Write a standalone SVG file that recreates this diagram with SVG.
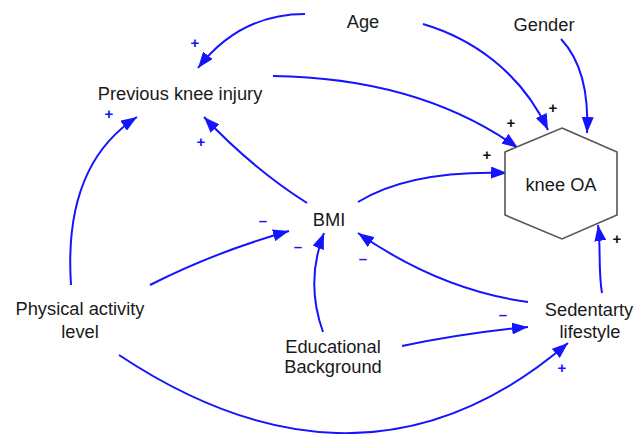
<svg xmlns="http://www.w3.org/2000/svg" width="634" height="434" viewBox="0 0 634 434">
<defs>
<marker id="ah" markerUnits="userSpaceOnUse" markerWidth="17" markerHeight="12" refX="16" refY="6" orient="auto">
<path d="M0,0 L16,6 L0,12 z" fill="#1414ff"/>
</marker>
<style>
.lbl{font-family:"Liberation Sans",Arial,sans-serif;font-size:18.3px;fill:#1a1a1a;text-anchor:middle}
.c{fill:none;stroke:#1414ff;stroke-width:2;marker-end:url(#ah)}
.pb{font-family:"Liberation Sans",Arial,sans-serif;font-size:15px;font-weight:bold;fill:#1414ff;text-anchor:middle}
.pk{font-family:"Liberation Sans",Arial,sans-serif;font-size:15px;font-weight:bold;fill:#111;text-anchor:middle}
</style>
</defs>
<rect width="634" height="434" fill="#fff"/>
<g id="connectors">
<path class="c" d="M305,14 Q240,14 198,68"/>
<path class="c" d="M273,76 Q420,78 518,148"/>
<path class="c" d="M423,24 C470,38 520,70 548,130"/>
<path class="c" d="M561,39 Q590,70 587,133"/>
<path class="c" d="M358,202 Q410,170 507,173"/>
<path class="c" d="M307,203 Q252,168 204,117"/>
<path class="c" d="M71,285 Q63,165 137,117"/>
<path class="c" d="M150,285 Q215,252 289,231"/>
<path class="c" d="M323,332 Q305,282 324,233"/>
<path class="c" d="M528,302 Q440,290 358,233"/>
<path class="c" d="M402,346 Q465,333 528,327"/>
<path class="c" d="M602,293 C598,270 601,245 598,225"/>
<path class="c" d="M119,355 C256,446 413,476 568,343"/>
<text class="pb" x="195" y="48">+</text>
<text class="pb" x="109" y="119">+</text>
<text class="pb" x="201" y="147">+</text>
<text class="pb" x="562" y="373">+</text>
<text class="pk" x="553" y="113">+</text>
<text class="pk" x="511" y="128">+</text>
<text class="pk" x="487" y="160">+</text>
<text class="pk" x="617" y="244">+</text>
<text class="pb" x="263" y="226">–</text>
<text class="pb" x="298" y="252">–</text>
<text class="pb" x="363" y="264">–</text>
<text class="pb" x="503" y="320">–</text>
</g>
<g id="age"><text class="lbl" x="363" y="28">Age</text></g>
<g id="gender"><text class="lbl" x="544" y="31">Gender</text></g>
<g id="prev-knee-injury"><text class="lbl" x="180" y="100">Previous knee injury</text></g>
<g id="knee-oa">
<polygon points="562,128 617,152 617,215 562,239 505,215 505,152" fill="#fff" stroke="#555" stroke-width="1.6"/>
<text class="lbl" x="561" y="191">knee OA</text>
</g>
<g id="bmi"><text class="lbl" x="329" y="226">BMI</text></g>
<g id="physical-activity"><text class="lbl" x="80" y="315">Physical activity</text><text class="lbl" x="80" y="338">level</text></g>
<g id="educational"><text class="lbl" x="333" y="353">Educational</text><text class="lbl" x="333" y="373">Background</text></g>
<g id="sedentary"><text class="lbl" x="589" y="316">Sedentarty</text><text class="lbl" x="590" y="338">lifestyle</text></g>
</svg>
